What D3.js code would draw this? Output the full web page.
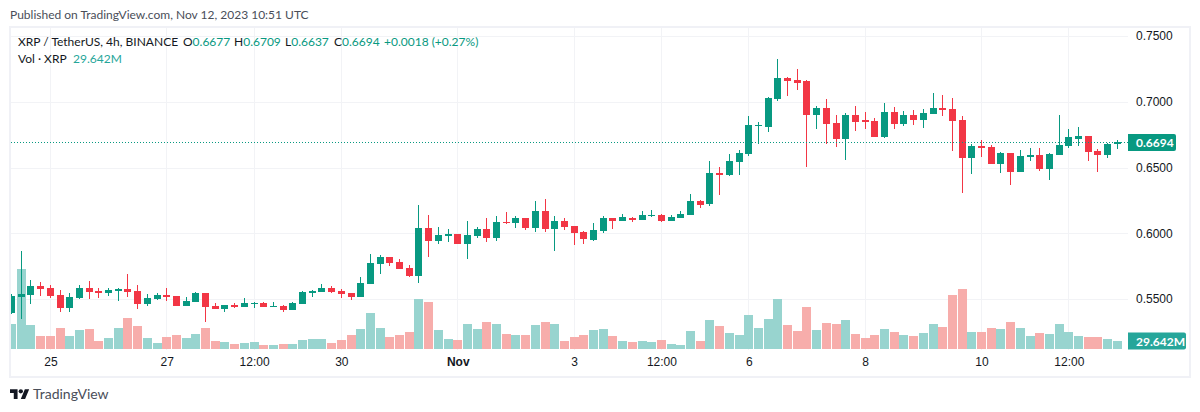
<!DOCTYPE html>
<html>
<head>
<meta charset="utf-8">
<title>XRP / TetherUS</title>
<script src="https://cdn.jsdelivr.net/npm/d3@7"></script>
<style>
    html, body { margin: 0; padding: 0; background: #fff; }
    svg { display: block; font-family: Lato, "Noto Sans", sans-serif; }
    .axis text { font-size: 12px; fill: #131722; }
    .legend { font-size: 12px; fill: #131722; }
    .green { fill: #089981; }
</style>
</head>
<body>
<div id="chart"></div>
<script>
// candles, 4h each, first one opens Oct 24 08:00 UTC
const firstCandle = new Date(Date.UTC(2023, 9, 24, 8));

const openPrices = [
    .5393,.5515,.5530,.5599,.5584,.5530,.5431,.5508,.5584,.5561,
    .5546,.5561,.5576,.5561,.5462,.5500,.5530,.5523,.5447,.5477,
    .5546,.5447,.5424,.5454,.5439,.5462,.5470,.5439,.5447,.5416,
    .5462,.5545,.5553,.5583,.5561,.5545,.5515,.5614,.5765,.5818,
    .5780,.5735,.5674,.6038,.5939,.5977,.5992,.5917,.5977,.6030,
    .5962,.6083,.6076,.6114,.6038,.6167,.6030,.6091,.6053,.6008,
    .5949,.6018,.6117,.6094,.6117,.6102,.6133,.6140,.6094,.6117,
    .6140,.6247,.6222,.6457,.6442,.6540,.6601,.6813,.6806,.7018,
    .7177,.7162,.7154,.6896,.6949,.6836,.6715,.6896,.6859,.6851,
    .6735,.6924,.6833,.6901,.6864,.6909,.6955,.6947,.6864,.6576,
    .6667,.6659,.6530,.6614,.6462,.6583,.6598,.6485,.6598,.6667,
    .6720,.6742,.6629,.6598,.6677
];
const highPrices = [
    .5538,.5866,.5645,.5630,.5607,.5569,.5546,.5607,.5637,.5584,
    .5584,.5584,.5691,.5607,.5538,.5546,.5584,.5523,.5515,.5553,
    .5546,.5470,.5454,.5470,.5508,.5477,.5477,.5477,.5454,.5477,
    .5561,.5568,.5614,.5598,.5576,.5545,.5667,.5841,.5833,.5818,
    .5803,.5758,.6212,.6136,.6045,.6030,.5992,.6091,.6045,.6114,
    .6129,.6159,.6129,.6114,.6242,.6258,.6129,.6114,.6053,.6015,
    .6079,.6133,.6117,.6148,.6125,.6171,.6179,.6148,.6140,.6171,
    .6301,.6255,.6548,.6503,.6601,.6631,.6889,.6843,.7033,.7328,
    .7192,.7252,.7162,.6965,.7018,.6896,.6912,.6965,.6919,.6874,
    .6992,.6962,.6932,.6939,.6947,.7068,.7053,.7030,.6894,.6682,
    .6712,.6674,.6621,.6614,.6636,.6652,.6652,.6614,.6901,.6795,
    .6811,.6742,.6644,.6689,.6709
];
const lowPrices = [
    .5386,.5348,.5462,.5523,.5508,.5401,.5401,.5500,.5500,.5508,
    .5523,.5485,.5515,.5424,.5447,.5492,.5485,.5447,.5447,.5477,
    .5325,.5424,.5401,.5431,.5439,.5431,.5439,.5439,.5401,.5416,
    .5462,.5515,.5553,.5545,.5508,.5492,.5515,.5614,.5689,.5750,
    .5727,.5667,.5621,.5818,.5917,.5932,.5917,.5803,.5962,.5932,
    .5939,.6068,.6038,.6023,.6008,.6008,.5864,.6023,.5909,.5917,
    .5941,.6003,.6033,.6094,.6087,.6102,.6125,.6087,.6094,.6117,
    .6140,.6194,.6207,.6290,.6434,.6442,.6586,.6677,.6768,.7002,
    .7040,.7086,.6503,.6790,.6677,.6654,.6556,.6775,.6790,.6730,
    .6727,.6795,.6818,.6826,.6803,.6909,.6894,.6629,.6303,.6447,
    .6583,.6523,.6455,.6364,.6462,.6553,.6477,.6402,.6598,.6652,
    .6667,.6553,.6462,.6576,.6637
];
const closePrices = [
    .5523,.5538,.5599,.5576,.5523,.5431,.5515,.5584,.5553,.5546,
    .5569,.5576,.5553,.5462,.5508,.5530,.5515,.5447,.5485,.5546,
    .5439,.5424,.5454,.5439,.5470,.5470,.5439,.5447,.5416,.5470,
    .5553,.5561,.5583,.5553,.5538,.5515,.5621,.5773,.5818,.5773,
    .5727,.5674,.6038,.5939,.5985,.5992,.5917,.5985,.6030,.5962,
    .6083,.6076,.6114,.6038,.6167,.6030,.6091,.6045,.6000,.5955,
    .6026,.6117,.6094,.6125,.6102,.6140,.6140,.6094,.6125,.6148,
    .6247,.6217,.6457,.6442,.6548,.6609,.6821,.6821,.7025,.7177,
    .7154,.7146,.6896,.6949,.6828,.6715,.6896,.6843,.6843,.6735,
    .6924,.6833,.6901,.6864,.6917,.6955,.6939,.6856,.6576,.6667,
    .6652,.6530,.6614,.6462,.6591,.6598,.6485,.6606,.6674,.6735,
    .6742,.6621,.6598,.6682,.6694
];
// millions of XRP
const volumes = [
    92.6,296.4,88.9,48.2,48.2,77.8,48.2,70.4,74.1,29.6,
    40.8,77.8,114.9,85.2,40.8,22.2,44.5,51.9,40.8,55.6,
    77.8,29.6,25.9,18.5,22.2,25.9,14.8,14.8,18.5,18.5,
    33.3,37.1,37.1,22.2,33.3,51.9,74.1,133.4,77.8,44.5,
    51.9,63.0,185.3,174.1,70.4,37.1,33.3,92.6,74.1,100.0,
    92.6,55.6,51.9,51.9,88.9,100.0,92.6,29.6,44.5,51.9,
    70.4,74.1,48.2,29.6,25.9,29.6,25.9,33.3,18.5,14.8,
    66.7,29.6,107.4,85.2,59.3,51.9,126.0,77.8,111.2,185.3,
    88.9,66.7,155.6,70.4,96.3,92.6,107.4,55.6,40.8,51.9,
    74.1,63.0,51.9,48.2,59.3,92.6,81.5,200.1,222.3,63.0,
    63.0,77.8,74.1,100.0,77.8,48.2,59.3,55.6,92.6,63.0,
    48.2,44.5,44.5,37.1,29.642
];

const priceTicks = [0.55, 0.60, 0.65, 0.70, 0.75];
const timeTicks = [
    Date.UTC(2023, 9, 25), Date.UTC(2023, 9, 27), Date.UTC(2023, 9, 28, 12), Date.UTC(2023, 9, 30),
    Date.UTC(2023, 10, 1), Date.UTC(2023, 10, 3), Date.UTC(2023, 10, 4, 12), Date.UTC(2023, 10, 6),
    Date.UTC(2023, 10, 8), Date.UTC(2023, 10, 10), Date.UTC(2023, 10, 11, 12)
].map(d => new Date(d));
const timeLabels = ["25", "27", "12:00", "30", "Nov", "3", "12:00", "6", "8", "10", "12:00"];

const upColor = "#089981", downColor = "#f23645";
const upVol = "#92d2cc", downVol = "#f7a9a7";
const gridColor = "#f2f3f6", frameColor = "#f0f1f6";

const width = 1200, height = 412;
const plot = { left: 11, right: 1128, top: 28, bottom: 350 };

const candles = openPrices.map((o, i) => ({
    date: d3.utcHour.offset(firstCandle, i * 4),
    open: o, high: highPrices[i], low: lowPrices[i], close: closePrices[i], vol: volumes[i]
}));

const svg = d3.select("#chart").append("svg")
    .attr("width", width)
    .attr("height", height);

// Scales
const x = d3.scaleUtc()
    .domain(d3.extent(candles, d => d.date))
    .range([11.6, 1117.3]);
const y = d3.scaleLinear().domain([0.55, 0.75]).range([299, 36]);
const yVol = d3.scaleLinear().domain([0, 222.3]).range([349, 289]);

svg.append("clipPath").attr("id", "plot-clip")
    .append("rect")
    .attr("x", plot.left).attr("y", plot.top)
    .attr("width", plot.right - plot.left)
    .attr("height", plot.bottom - plot.top);

// header
svg.append("text").attr("x", 10).attr("y", 19)
    .attr("font-size", 12).attr("fill", "#4a4e59")
    .text("Published on TradingView.com, Nov 12, 2023 10:51 UTC");

// frame
svg.append("rect")
    .attr("x", 10).attr("y", 27).attr("width", 1180).attr("height", 350)
    .attr("fill", "none").attr("stroke", frameColor).attr("stroke-width", 2);

// grid
const grid = svg.append("g").attr("shape-rendering", "crispEdges").attr("stroke", gridColor);
grid.selectAll(".h").data(priceTicks).enter().append("line")
    .attr("x1", plot.left).attr("x2", plot.right)
    .attr("y1", d => Math.round(y(d)) + 0.5).attr("y2", d => Math.round(y(d)) + 0.5);
grid.selectAll(".v").data(timeTicks).enter().append("line")
    .attr("x1", d => Math.floor(x(d)) + 0.5).attr("x2", d => Math.floor(x(d)) + 0.5)
    .attr("y1", plot.top).attr("y2", plot.bottom);

const chart = svg.append("g")
    .attr("clip-path", "url(#plot-clip)")
    .attr("shape-rendering", "crispEdges");

// volume bars
chart.selectAll(".vol").data(candles).enter().append("rect")
    .attr("class", "vol")
    .attr("x", d => Math.round(x(d.date) - 4.5))
    .attr("width", 9)
    .attr("y", d => Math.round(yVol(d.vol)))
    .attr("height", d => yVol(0) - Math.round(yVol(d.vol)))
    .attr("fill", d => d.close >= d.open ? upVol : downVol)
    .attr("fill-opacity", 0.95);

// wicks
chart.selectAll(".wick").data(candles).enter().append("rect")
    .attr("class", "wick")
    .attr("x", d => Math.floor(x(d.date)))
    .attr("width", 1)
    .attr("y", d => Math.round(y(d.high)))
    .attr("height", d => Math.max(1, Math.round(y(d.low)) - Math.round(y(d.high))))
    .attr("fill", d => d.close >= d.open ? upColor : downColor);

// bodies
chart.selectAll(".body").data(candles).enter().append("rect")
    .attr("class", "body")
    .attr("x", d => Math.round(x(d.date) - 3.5))
    .attr("width", 7)
    .attr("y", d => Math.round(y(Math.max(d.open, d.close))))
    .attr("height", d => Math.max(1, Math.round(y(Math.min(d.open, d.close))) - Math.round(y(Math.max(d.open, d.close)))))
    .attr("fill", d => d.close >= d.open ? upColor : downColor);

// last price line
const last = candles[candles.length - 1];
svg.append("line")
    .attr("x1", plot.left).attr("x2", plot.right)
    .attr("y1", Math.round(y(last.close)) + 0.5).attr("y2", Math.round(y(last.close)) + 0.5)
    .attr("stroke", upColor)
    .attr("stroke-dasharray", "1 2")
    .attr("shape-rendering", "crispEdges");

// axes
const yAxis = d3.axisRight(y)
    .tickValues(priceTicks)
    .tickFormat(d3.format(".4f"))
    .tickSize(0)
    .tickPadding(8);
svg.append("g").attr("class", "axis")
    .attr("transform", "translate(" + plot.right + ",0)")
    .call(yAxis)
    .call(g => g.select(".domain").remove());

const xAxis = d3.axisBottom(x)
    .tickValues(timeTicks)
    .tickFormat((d, i) => timeLabels[i])
    .tickSize(0)
    .tickPadding(7);
svg.append("g").attr("class", "axis")
    .attr("transform", "translate(0," + plot.bottom + ")")
    .call(xAxis)
    .call(g => g.select(".domain").remove())
    .selectAll("text")
    .attr("font-weight", d => d.getUTCDate() === 1 ? 700 : null);

// last price and last volume labels
function axisLabel(yCenter, w, fill, label) {
    svg.append("path")
        .attr("d", "M" + plot.right + "," + (yCenter - 8.5) + "h" + (w - 2) + "q2,0 2,2v13q0,2 -2,2h-" + (w - 2) + "z")
        .attr("fill", fill);
    svg.append("text")
        .attr("x", plot.right + 8).attr("y", yCenter + 4.5)
        .attr("font-size", 12).attr("font-weight", 700)
        .attr("fill", "#fff")
        .text(label);
}
axisLabel(Math.round(y(last.close)) + 0.5, 48, upColor, d3.format(".4f")(last.close));
axisLabel(341, 58, "#26a69a", "29.642M");

// legend
const legend = svg.append("g").attr("class", "legend");
legend.append("text").attr("x", 18).attr("y", 46).text("XRP / TetherUS, 4h, BINANCE");
[
    ["O", 183, last.open], ["H", 234, last.high], ["L", 285, last.low], ["C", 334, last.close]
].forEach(function (item) {
    const t = legend.append("text").attr("x", item[1]).attr("y", 46).text(item[0]);
    t.append("tspan").attr("class", "green").text(d3.format(".4f")(item[2]));
});
legend.append("text").attr("class", "green").attr("x", 384).attr("y", 46).text("+0.0018 (+0.27%)");
legend.append("text").attr("x", 18).attr("y", 63).text("Vol · XRP");
legend.append("text").attr("x", 73).attr("y", 63).style("fill", "#26a69a").text("29.642M");

// logo
const logo = svg.append("g")
    .attr("transform", "translate(10,387) scale(0.54)")
    .attr("fill", "#131722");
logo.append("path").attr("d", "M14 22H7V11H0V4h14v18zM28 22h-8l7.5-18h8L28 22z");
logo.append("circle").attr("cx", 20).attr("cy", 8).attr("r", 4);
svg.append("text").attr("x", 33).attr("y", 399)
    .attr("font-size", 14).attr("fill", "#4a4e59")
    .text("TradingView");
</script>
</body>
</html>
